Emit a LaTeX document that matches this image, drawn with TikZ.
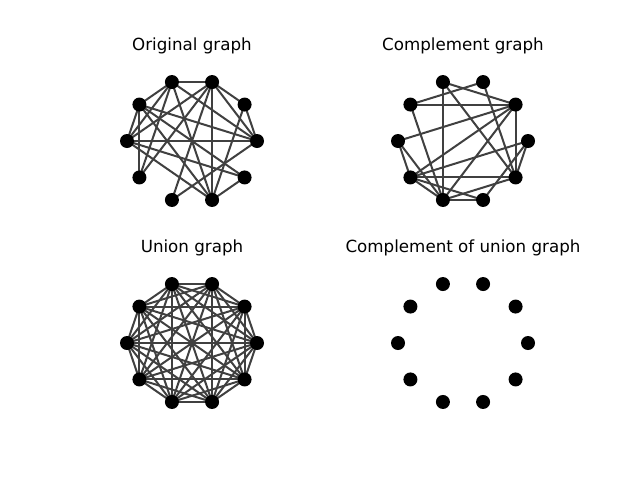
\documentclass[tikz,border=0pt]{standalone}
\usepackage{fontspec}
\setmainfont{DejaVu Sans}
\begin{document}
\begin{tikzpicture}[
    x=1pt, y=-1pt,
    vertex/.style={circle, fill=black, inner sep=0pt, minimum size=14pt},
    edge/.style={line width=2pt, draw=black!75},
    title/.style={font=\fontsize{16.7}{20}\selectfont, anchor=base}
]
\useasboundingbox (0,0) rectangle (640,480);
% titles
\node[title] (t1) at (192,50) {Original graph};
\node[title] (t2) at (463,50) {Complement graph};
\node[title] (t3) at (192,252) {Union graph};
\node[title] (t4) at (463,252) {Complement of union graph};
% vertices
\foreach \p/\cx/\cy in {o/192/141, c/463/141, u/192/343, k/463/343}
  \foreach \i in {0,...,9}
    \coordinate (\p\i) at ({\cx+65*cos(36*\i)},{\cy-62*sin(36*\i)});
% original graph
\foreach \a/\b in {0/1,0/2,0/3,0/4,0/5,0/7,1/2,1/8,2/3,2/5,2/6,2/7,2/8,3/4,3/5,3/6,3/8,4/5,4/6,4/8,4/9,5/8,5/9,8/9}
  \draw[edge] (o\a) -- (o\b);
% complement graph
\foreach \a/\b in {0/6,0/8,0/9,1/3,1/4,1/5,1/6,1/7,1/9,2/4,2/9,3/7,3/9,4/7,5/6,5/7,6/7,6/8,6/9,7/8,7/9}
  \draw[edge] (c\a) -- (c\b);
% union graph
\foreach \a in {0,...,8}
  \foreach \b in {\a,...,9}
    \draw[edge] (u\a) -- (u\b);
\foreach \p in {o,c,u,k}
  \foreach \i in {0,...,9}
    \node[vertex] (\p n\i) at (\p\i) {};
\end{tikzpicture}
\end{document}
